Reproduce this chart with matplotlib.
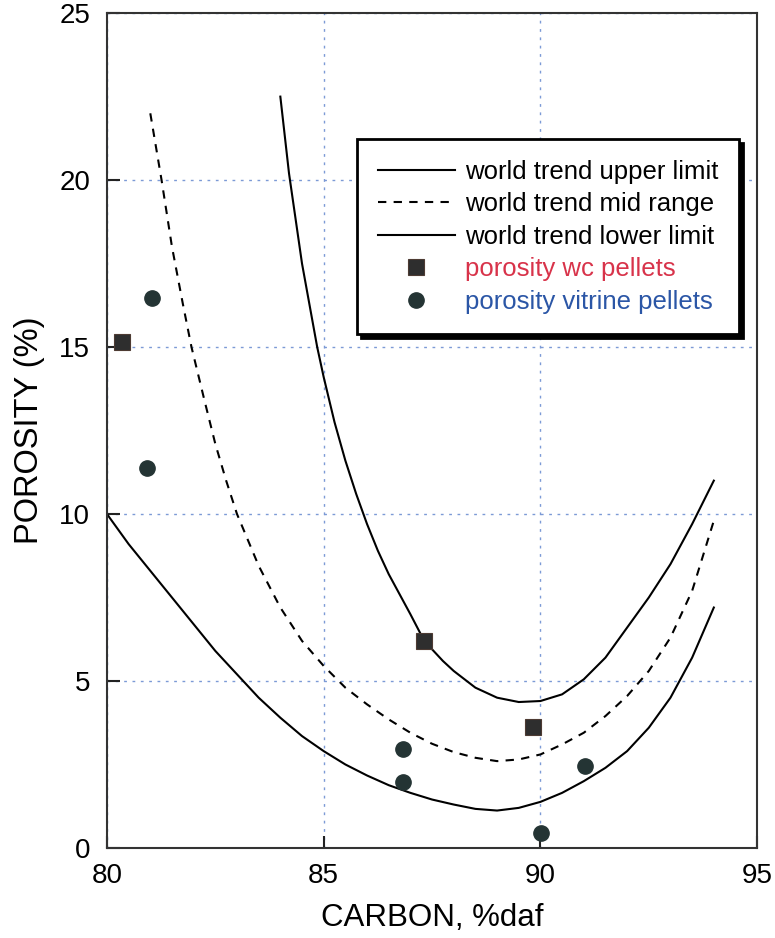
import matplotlib
matplotlib.use("Agg")
import matplotlib.pyplot as plt

plt.rcParams['font.family'] = ['Liberation Sans', 'DejaVu Sans']

# ---- data ----
upper_x = [84.0, 84.2, 84.5, 84.85, 85.0, 85.25, 85.5, 85.75, 86.0, 86.25, 86.5, 87.0,
           87.32, 87.75, 88.0, 88.5, 89.0, 89.5, 90.0, 90.5, 91.0, 91.5, 92.0, 92.5,
           93.0, 93.5, 94.0]
upper_y = [22.5, 20.2, 17.5, 15.0, 14.1, 12.75, 11.6, 10.6, 9.7, 8.9, 8.2, 7.0,
           6.2, 5.6, 5.3, 4.8, 4.5, 4.37, 4.4, 4.6, 5.05, 5.7, 6.6, 7.5,
           8.5, 9.7, 11.0]

mid_x = [81.0, 81.26, 81.5, 81.75, 81.95, 82.25, 82.5, 82.75, 83.0, 83.5, 84.0, 84.5,
         85.0, 85.5, 86.0, 86.5, 87.0, 87.5, 88.0, 88.5, 89.0, 89.5, 90.0, 90.5,
         91.0, 91.5, 92.0, 92.5, 93.0, 93.5, 94.0]
mid_y = [22.0, 20.0, 18.0, 16.3, 15.0, 13.4, 12.1, 11.0, 10.0, 8.45, 7.2, 6.2,
         5.45, 4.8, 4.3, 3.85, 3.45, 3.12, 2.87, 2.7, 2.6, 2.65, 2.8, 3.1,
         3.45, 3.95, 4.55, 5.3, 6.3, 7.7, 9.8]

lower_x = [80.0, 80.5, 81.0, 81.5, 82.0, 82.5, 83.0, 83.5, 84.0, 84.5, 85.0, 85.5, 86.0,
           86.5, 87.0, 87.5, 88.0, 88.5, 89.0, 89.5, 90.0, 90.5, 91.0, 91.5, 92.0, 92.5,
           93.0, 93.5, 94.0]
lower_y = [10.0, 9.1, 8.3, 7.5, 6.7, 5.9, 5.2, 4.5, 3.9, 3.35, 2.9, 2.5, 2.17,
           1.88, 1.65, 1.45, 1.3, 1.17, 1.12, 1.2, 1.38, 1.65, 2.0, 2.4, 2.9, 3.6,
           4.5, 5.7, 7.2]

wc_x = [80.34, 87.32, 89.84]
wc_y = [15.16, 6.21, 3.63]

vit_x = [81.03, 80.93, 86.82, 86.82, 91.03, 90.02]
vit_y = [16.48, 11.37, 2.96, 1.99, 2.46, 0.44]

labels = ['world trend upper limit', 'world trend mid range', 'world trend lower limit',
          'porosity wc pellets', 'porosity vitrine pellets']
label_colors = ['black', 'black', 'black', '#d8334a', '#2b56a6']

x_ticks = [80, 85, 90, 95]
y_ticks = [0, 5, 10, 15, 20, 25]

# ---- figure ----
fig = plt.figure(figsize=(7.75, 9.38), dpi=100)
ax = fig.add_axes([0.138, 0.096, 0.839, 0.890])

ax.plot(upper_x, upper_y, color='black', lw=1.5, label=labels[0])
ax.plot(mid_x, mid_y, color='black', lw=1.5, linestyle=(0, (4, 3.5)), label=labels[1])
ax.plot(lower_x, lower_y, color='black', lw=1.5, label=labels[2])
ax.plot(wc_x, wc_y, linestyle='none', marker='s', ms=11, color='#2e2e2e',
        mec='#4d3b33', mew=0.8, label=labels[3], zorder=5)
ax.plot(vit_x, vit_y, linestyle='none', marker='o', ms=11, color='#243434',
        mec='#243434', label=labels[4], zorder=5)

ax.set_xlim(80, 95)
ax.set_ylim(0, 25)
ax.set_xticks(x_ticks)
ax.set_yticks(y_ticks)
ax.tick_params(direction='in', length=9, width=1.5, labelsize=20, color='#222222')
ax.tick_params(axis='x', pad=11)
ax.tick_params(axis='y', pad=12)

ax.grid(True, color='#7c9ad6', lw=1.0, linestyle=(0, (2, 4)))
ax.set_axisbelow(True)

for sp in ax.spines.values():
    sp.set_linewidth(1.5)
    sp.set_color('#333333')

ax.set_xlabel('CARBON, %daf', fontsize=22.5, labelpad=10)
ax.set_ylabel('POROSITY (%)', fontsize=23.5, labelpad=10)

leg = ax.legend(loc='upper left', bbox_to_anchor=(0.385, 0.849), borderaxespad=0,
                fontsize=18.5, frameon=True, fancybox=False, handlelength=3.0,
                handletextpad=0.4, labelspacing=0.33, borderpad=0.8,
                shadow={'color': 'black', 'alpha': 1.0, 'ox': 3, 'oy': -3})
leg.get_frame().set_edgecolor('black')
leg.get_frame().set_linewidth(2.0)
leg.get_frame().set_alpha(1.0)
for txt, c in zip(leg.get_texts(), label_colors):
    txt.set_color(c)

fig.savefig('out.png', dpi=100)
